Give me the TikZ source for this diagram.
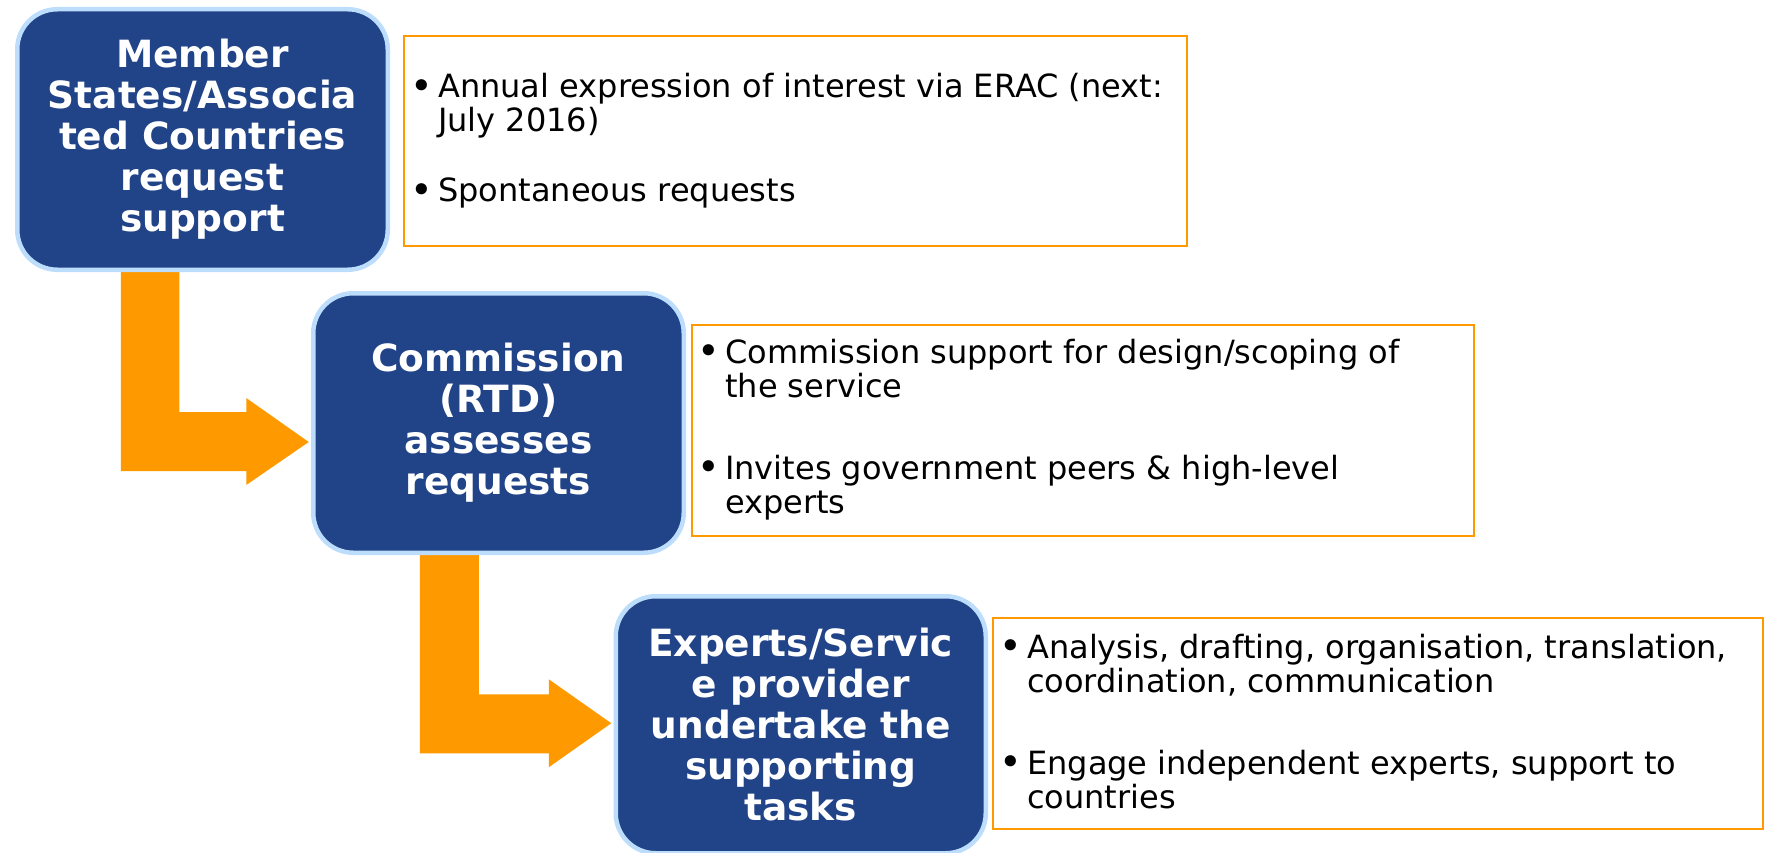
\documentclass[tikz,border=0pt]{standalone}
\usepackage{fontspec}
\usepackage{graphicx}
\setmainfont{DejaVu Sans}
\usetikzlibrary{calc}
\definecolor{boxblue}{RGB}{33,67,135}
\definecolor{rimblue}{RGB}{189,221,252}
\definecolor{flowor}{RGB}{255,153,0}
\definecolor{lineor}{RGB}{255,153,0}
\pgfdeclarelayer{bg}
\pgfsetlayers{bg,main}
\newcommand{\bpar}[1]{\parbox[t]{800pt}{\raggedright\leavevmode\llap{\raisebox{-1.5pt}{\scalebox{1.2}{•}}\hspace{5pt}}#1}}
\begin{document}
\begin{tikzpicture}[x=1pt,y=-1pt,
  bluebox/.style={draw=rimblue, fill=boxblue, line width=4.5pt, rounded corners=40pt,
    text=white, align=center, inner sep=0pt,
    font=\bfseries\fontsize{37.5pt}{41pt}\selectfont},
  notebox/.style={draw=lineor, line width=2pt, fill=white, inner sep=0pt},
  bullettext/.style={anchor=base west, inner sep=0pt, text=black,
    font=\fontsize{32pt}{34pt}\selectfont},
  flow/.style={fill=flowor}]
\useasboundingbox (0,0) rectangle (1766,853);

% orange note boxes
\node[notebox, minimum width=783pt, minimum height=210pt] (ob1) at (795.5,141) {};
\node[notebox, minimum width=782pt, minimum height=211pt] (ob2) at (1083,430.5) {};
\node[notebox, minimum width=770pt, minimum height=211pt] (ob3) at (1378,723.5) {};

% blue boxes
\node[bluebox, minimum width=370.5pt, minimum height=260.5pt] (b1) at (202.5,139.5)
  {Member\\States/Associa\\ted Countries\\request\\support};
\node[bluebox, minimum width=370.5pt, minimum height=259.5pt] (b2) at (498.5,423)
  {Commission\\(RTD)\\assesses\\requests};
\node[bluebox, minimum width=370pt, minimum height=257pt] (b3) at (800.75,724.75)
  {Experts/Servic\\e provider\\undertake the\\supporting\\tasks};

% flow arrows (behind the boxes)
\begin{pgfonlayer}{bg}
\path (b1.south west) ++(105.75,-2) coordinate (s1);
\path (b2.west) ++(-2.25,19) coordinate (t1);
\fill[flow] (s1) -- ++(58.5,0) |- ($(t1)+(-62.5,-30)$) -- ++(0,-14) -- (t1)
  -- ++(-62.5,43) -- ++(0,-14) -- ($(s1|-t1)+(0,29)$) -- cycle;

\path (b2.south west) ++(108.75,-2) coordinate (s2);
\path (b3.west) ++(-2.25,-1.5) coordinate (t2);
\fill[flow] (s2) -- ++(59,0) |- ($(t2)+(-62.5,-29)$) -- ++(0,-15) -- (t2)
  -- ++(-62.5,44) -- ++(0,-14) -- ($(s2|-t2)+(0,30)$) -- cycle;
\end{pgfonlayer}

% bullet texts
\node[bullettext] (p11) at (438,98) {\bpar{Annual expression of interest via ERAC (next:\\July 2016)}};
\node[bullettext] (p12) at (438,202) {\bpar{Spontaneous requests}};
\node[bullettext] (p21) at (725,363) {\bpar{Commission support for design/scoping of\\the service}};
\node[bullettext] (p22) at (725,479) {\bpar{Invites government peers \& high-level\\experts}};
\node[bullettext] (p31) at (1027,658) {\bpar{Analysis, drafting, organisation, translation,\\coordination, communication}};
\node[bullettext] (p32) at (1027,774) {\bpar{Engage independent experts, support to\\countries}};
\end{tikzpicture}
\end{document}
